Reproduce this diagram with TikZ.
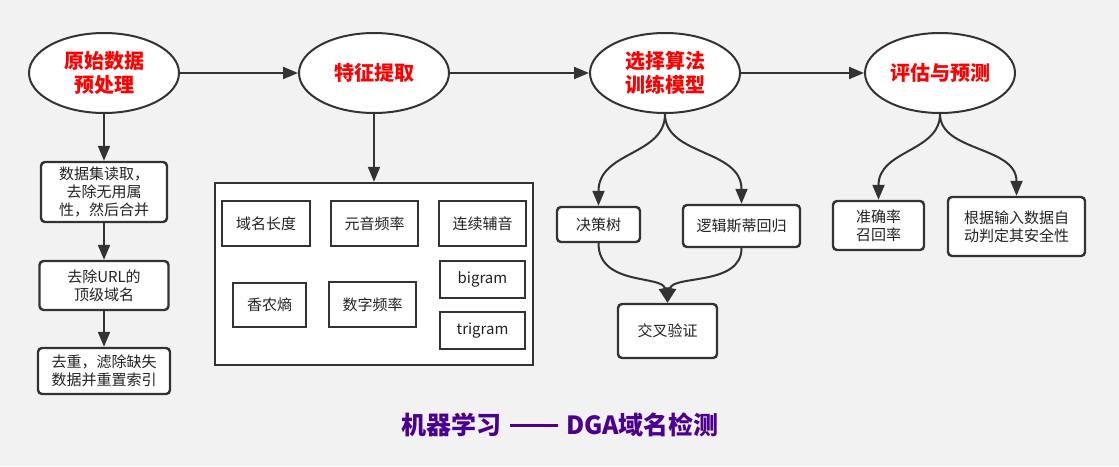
\documentclass[tikz,border=0pt]{standalone}
\usepackage{fontspec}
\setmainfont{Noto Sans CJK SC}
\usetikzlibrary{shapes.geometric,arrows.meta}
\definecolor{bg}{HTML}{F2F2F2}
\definecolor{ln}{HTML}{333333}
\definecolor{txt}{HTML}{222222}
\definecolor{ttl}{RGB}{75,0,145}
\tikzset{
  ell/.style={ellipse, draw=ln, line width=2pt, fill=white, minimum width=150pt, minimum height=80pt, inner sep=0pt, text=red, font=\fontsize{20}{24}\selectfont\bfseries, align=center},
  rbox/.style={rectangle, rounded corners=4pt, draw=ln, line width=2.4pt, fill=white, inner sep=0pt, font=\fontsize{15}{18}\selectfont, align=center, text=txt},
  sbox/.style={rectangle, draw=ln, line width=2.6pt, fill=white, inner sep=0pt, font=\fontsize{15}{18}\selectfont, align=center, text=txt},
  arr/.style={draw=ln, line width=2pt, -{Triangle[length=15pt,width=12pt]}},
}
\begin{document}
\begin{tikzpicture}[x=1pt,y=-1pt]
\fill[bg] (0,0) rectangle (1119,466);
\useasboundingbox (0,0) rectangle (1119,466);

\node[ell] (e1) at (104,73) {原始数据\\预处理};
\node[ell] (e2) at (374,73) {特征提取};
\node[ell] (e3) at (665,73) {选择算法\\训练模型};
\node[ell] (e4) at (940,73) {评估与预测};

\node[rbox, minimum width=126pt, minimum height=60pt] (b1) at (104,192) {数据集读取，\\去除无用属\\性，然后合并};
\node[rbox, minimum width=129pt, minimum height=49pt] (b2) at (104,285.5) {去除URL的\\顶级域名};
\node[rbox, minimum width=132pt, minimum height=46pt] (b3) at (104,371) {去重，滤除缺失\\数据并重置索引};

\node[draw=ln, line width=2.4pt, fill=white, minimum width=318pt, minimum height=182pt, inner sep=0pt] (fbox) at (374,274) {};
\node[sbox, minimum width=88pt, minimum height=45pt] (f1) at (266,223.5) {域名长度};
\node[sbox, minimum width=87pt, minimum height=45pt] (f2) at (374.5,223.5) {元音频率};
\node[sbox, minimum width=87pt, minimum height=45pt] (f3) at (482.5,223.5) {连续辅音};
\node[sbox, minimum width=73pt, minimum height=44pt] (f4) at (269.5,305) {香农熵};
\node[sbox, minimum width=87pt, minimum height=45pt] (f5) at (372.5,304.5) {数字频率};
\node[sbox, minimum width=85pt, minimum height=37pt] (f6) at (482.5,279.5) {bigram};
\node[sbox, minimum width=85pt, minimum height=37pt] (f7) at (482.5,330.5) {trigram};

\node[rbox, minimum width=83pt, minimum height=35pt] (c1) at (598.5,224.5) {决策树};
\node[rbox, minimum width=117pt, minimum height=42pt] (c2) at (741.5,226) {逻辑斯蒂回归};
\node[rbox, minimum width=99pt, minimum height=54pt] (c3) at (667.5,331) {交叉验证};
\node[rbox, minimum width=91pt, minimum height=49pt] (d1) at (878.5,225.5) {准确率\\召回率};
\node[rbox, minimum width=137pt, minimum height=59pt] (d2) at (1016.5,226.5) {根据输入数据自\\动判定其安全性};

\node[font=\fontsize{25}{29}\selectfont\bfseries, text=ttl] (title) at (560,425) {机器学习\hspace*{9pt}\rule[8pt]{48pt}{2.4pt}\hspace*{8pt}DGA域名检测};

\draw[arr] (e1) -- (e2);
\draw[arr] (e2) -- (e3);
\draw[arr] (e3) -- (e4);
\draw[arr] (e1.south) -- (b1.north);
\draw[arr] (b1.south) -- (b2.north);
\draw[arr] (b2.south) -- (b3.north);
\draw[arr] (e2.south) -- (fbox.north);
\draw[arr] (e3.south) .. controls +(0,42) and +(0,-55) .. (c1.north);
\draw[arr] (e3.south) .. controls +(0,42) and +(0,-55) .. (c2.north);
\draw[arr] (c1.south) .. controls +(0,43) and +(-5,-28) .. (c3.north);
\draw[arr] (c2.south) .. controls +(0,38) and +(5,-28) .. (c3.north);
\draw[arr] (e4.south) .. controls +(0,38) and +(0,-50) .. (d1.north);
\draw[arr] (e4.south) .. controls +(0,38) and +(0,-50) .. (d2.north);
\end{tikzpicture}
\end{document}
